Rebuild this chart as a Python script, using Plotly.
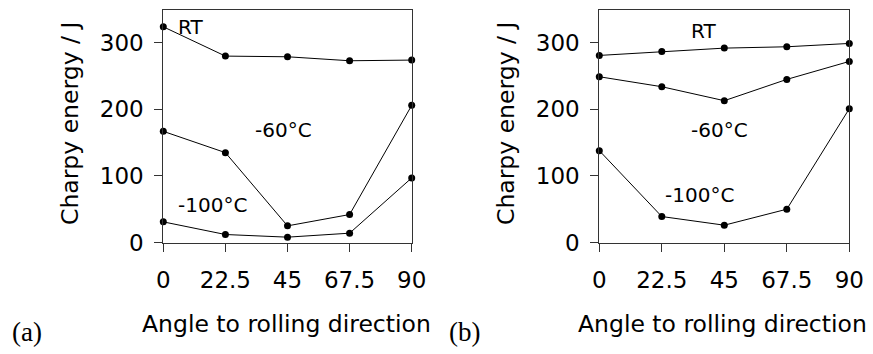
import plotly.graph_objects as go

angles = [0, 22.5, 45, 67.5, 90]
tick_labels = ["0", "22.5", "45", "67.5", "90"]

a_rt = [324, 280, 279, 273, 274]
a_m60 = [167, 135, 25, 42, 206]
a_m100 = [31, 12, 8, 14, 97]

b_rt = [281, 287, 292, 294, 299]
b_m60 = [249, 234, 213, 245, 272]
b_m100 = [138, 39, 26, 50, 201]

W, H = 873, 354
fig = go.Figure()

line = dict(color="black", width=1)
marker = dict(color="black", size=7)

for xa, ya, series in [("x", "y", [a_rt, a_m60, a_m100]), ("x2", "y2", [b_rt, b_m60, b_m100])]:
    for s in series:
        fig.add_trace(go.Scatter(x=angles, y=s, mode="lines+markers", line=line,
                                 marker=marker, xaxis=xa, yaxis=ya, showlegend=False,
                                 cliponaxis=False, hoverinfo="skip"))

font_main = "DejaVu Sans"
tickfont = dict(family=font_main, size=23, color="black")

def px(x):
    return x / W

def py(y):
    return 1 - y / H

def xax(domain, anchor):
    return dict(domain=domain, anchor=anchor, range=[0, 90], tickvals=angles, ticktext=tick_labels,
                showline=True, linecolor="#333", linewidth=1, mirror=True, ticks="outside",
                ticklen=8, tickcolor="#333", showgrid=False, zeroline=False, tickfont=tickfont,
                automargin=False, ticklabelstandoff=9)

def yax(domain, anchor):
    return dict(domain=domain, anchor=anchor, range=[0, 350], tickvals=[0, 100, 200, 300],
                showline=True, linecolor="#333", linewidth=1, mirror=True, ticks="outside",
                ticklen=8, tickcolor="#333", showgrid=False, zeroline=False, tickfont=tickfont,
                automargin=False, ticklabelstandoff=6)

ydom = [py(242.5), py(9.5)]
fig.update_layout(
    template="none",
    width=W, height=H, margin=dict(l=0, r=0, t=0, b=0, autoexpand=False),
    paper_bgcolor="white", plot_bgcolor="white",
    xaxis=xax([px(163.3), px(411.7)], "y"),
    yaxis=yax(ydom, "x"),
    xaxis2=xax([px(599.3), px(849.3)], "y2"),
    yaxis2=yax(ydom, "x2"),
)

def pann(x, y, text, size=20, family=font_main, angle=0):
    fig.add_annotation(x=px(x), y=py(y), xref="paper", yref="paper", text=text,
                       showarrow=False, xanchor="center", yanchor="middle", textangle=angle,
                       font=dict(family=family, size=size, color="black"))

# series labels
pann(190, 27, "RT")
pann(283, 130, "-60°C")
pann(212, 205, "-100°C")
pann(703, 31, "RT")
pann(719, 130, "-60°C")
pann(699, 195, "-100°C")

# axis titles
pann(70, 124, "Charpy energy / J", size=23.5, angle=-90)
pann(506, 124, "Charpy energy / J", size=23.5, angle=-90)
pann(286, 324, "Angle to rolling direction", size=23.5)
pann(722, 324, "Angle to rolling direction", size=23.5)

# panel labels
pann(27, 332, "(a)", size=27, family="Liberation Serif")
pann(464, 332, "(b)", size=27, family="Liberation Serif")

fig.write_html("out.html", config={"displayModeBar": False},
               post_script="document.body.style.margin='0';document.body.style.overflow='hidden';")
